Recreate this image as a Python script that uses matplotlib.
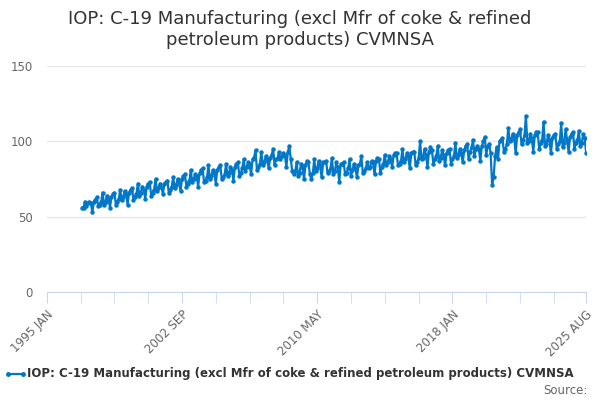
import matplotlib.pyplot as plt
import matplotlib.dates as mdates
import pandas as pd

title = "IOP: C-19 Manufacturing (excl Mfr of coke & refined\npetroleum products) CVMNSA"
series_name = "IOP: C-19 Manufacturing (excl Mfr of coke & refined petroleum products) CVMNSA"

# monthly values, one list per year
v1997 = [56, 56, 60, 57, 59, 60, 59, 53, 60, 61, 63, 57]
v1998 = [58, 60, 66, 58, 60, 64, 62, 56, 63, 65, 66, 58]
v1999 = [60, 62, 68, 61, 63, 67, 65, 58, 66, 68, 69, 61]
v2000 = [63, 65, 72, 64, 66, 70, 68, 62, 70, 72, 73, 64]
v2001 = [66, 68, 75, 67, 69, 72, 70, 65, 72, 73, 74, 66]
v2002 = [68, 70, 76, 69, 71, 75, 73, 67, 75, 77, 78, 70]
v2003 = [72, 74, 81, 73, 75, 78, 77, 70, 79, 81, 82, 73]
v2004 = [74, 76, 84, 75, 77, 81, 79, 72, 81, 83, 84, 75]
v2005 = [76, 78, 85, 77, 79, 83, 81, 74, 83, 85, 86, 77]
v2006 = [79, 82, 88, 80, 83, 86, 85, 78, 88, 89, 94, 81]
v2007 = [83, 85, 93, 84, 86, 90, 88, 82, 89, 91, 95, 84]
v2008 = [88, 89, 93, 88, 90, 92, 91, 83, 93, 97, 88, 80]
v2009 = [78, 80, 86, 77, 79, 85, 83, 75, 84, 87, 86, 78]
v2010 = [75, 79, 88, 80, 82, 87, 84, 76, 86, 86, 87, 79]
v2011 = [80, 82, 89, 78, 80, 86, 83, 73, 85, 85, 86, 78]
v2012 = [79, 82, 88, 77, 81, 85, 82, 76, 84, 85, 90, 79]
v2013 = [80, 82, 86, 82, 83, 87, 86, 78, 87, 89, 88, 79]
v2014 = [83, 85, 91, 84, 86, 90, 88, 83, 91, 92, 92, 84]
v2015 = [85, 87, 95, 86, 88, 92, 90, 82, 92, 93, 93, 84]
v2016 = [86, 89, 100, 88, 89, 95, 91, 83, 93, 96, 94, 85]
v2017 = [88, 90, 97, 87, 89, 94, 91, 84, 92, 94, 95, 85]
v2018 = [88, 90, 99, 89, 91, 95, 92, 86, 94, 97, 98, 88]
v2019 = [93, 96, 101, 90, 95, 97, 95, 87, 97, 100, 103, 91]
v2020 = [97, 98, 92, 71, 76, 90, 96, 88, 100, 101, 102, 93]
v2021 = [95, 98, 109, 100, 101, 105, 103, 92, 104, 106, 108, 98]
v2022 = [101, 104, 117, 99, 100, 105, 102, 93, 104, 106, 106, 95]
v2023 = [99, 101, 113, 97, 98, 104, 101, 92, 102, 104, 105, 95]
v2024 = [98, 100, 112, 96, 99, 108, 101, 93, 103, 105, 106, 95]
v2025 = [99, 101, 107, 97, 99, 105, 102, 92]

values = (v1997 + v1998 + v1999 + v2000 + v2001 + v2002 + v2003 + v2004 + v2005
          + v2006 + v2007 + v2008 + v2009 + v2010 + v2011 + v2012 + v2013 + v2014
          + v2015 + v2016 + v2017 + v2018 + v2019 + v2020 + v2021 + v2022 + v2023
          + v2024 + v2025)
dates = pd.date_range("1997-01-01", periods=len(values), freq="MS")

tick_labels = ["1995 JAN", "2002 SEP", "2010 MAY", "2018 JAN", "2025 AUG"]
tick_dates = ["1995-01-01", "2002-09-01", "2010-05-01", "2018-01-01", "2025-08-01"]

plt.rcParams['font.family'] = ['DejaVu Sans']
fig = plt.figure(figsize=(6, 4), dpi=100)
ax = fig.add_axes([0.078, 0.27, 0.899, 0.565])
color = "#0077c8"
ax.plot(dates, values, color=color, lw=1.6, marker="o", ms=2.2)

start = pd.Timestamp("1995-01-01")
end = pd.Timestamp("2025-08-01")
ax.set_xlim(start, end)
ax.set_ylim(0, 150)
ax.set_yticks([0, 50, 100, 150])
ax.grid(axis="y", color="#e6e6e6", lw=1)
ax.set_axisbelow(True)

minor = pd.date_range(start, end, freq="23MS")
ax.set_xticks(minor, minor=True)
ax.set_xticks(pd.to_datetime(tick_dates))
ax.set_xticklabels(tick_labels, rotation=45, ha="right", rotation_mode="anchor", color="#666666", fontsize=8.5)
ax.tick_params(axis="x", which="both", length=8, color="#ccd6eb")
ax.tick_params(axis="y", length=0, labelcolor="#666666", labelsize=8.5, pad=10)
for s in ["top", "right", "left"]:
    ax.spines[s].set_visible(False)
ax.spines["bottom"].set_color("#ccd6eb")

fig.text(0.5, 0.975, title, ha="center", va="top", fontsize=13, color="#333333")
fig.lines.append(plt.Line2D([0.013, 0.038], [0.065, 0.065], color=color, lw=1.6, marker="o", ms=2.5, transform=fig.transFigure))
fig.text(0.045, 0.065, series_name, va="center", fontsize=8.5, fontweight="bold", color="#333333")
fig.text(0.98, 0.025, "Source:", ha="right", va="center", fontsize=8.5, color="#666666")

fig.savefig("out.png")
